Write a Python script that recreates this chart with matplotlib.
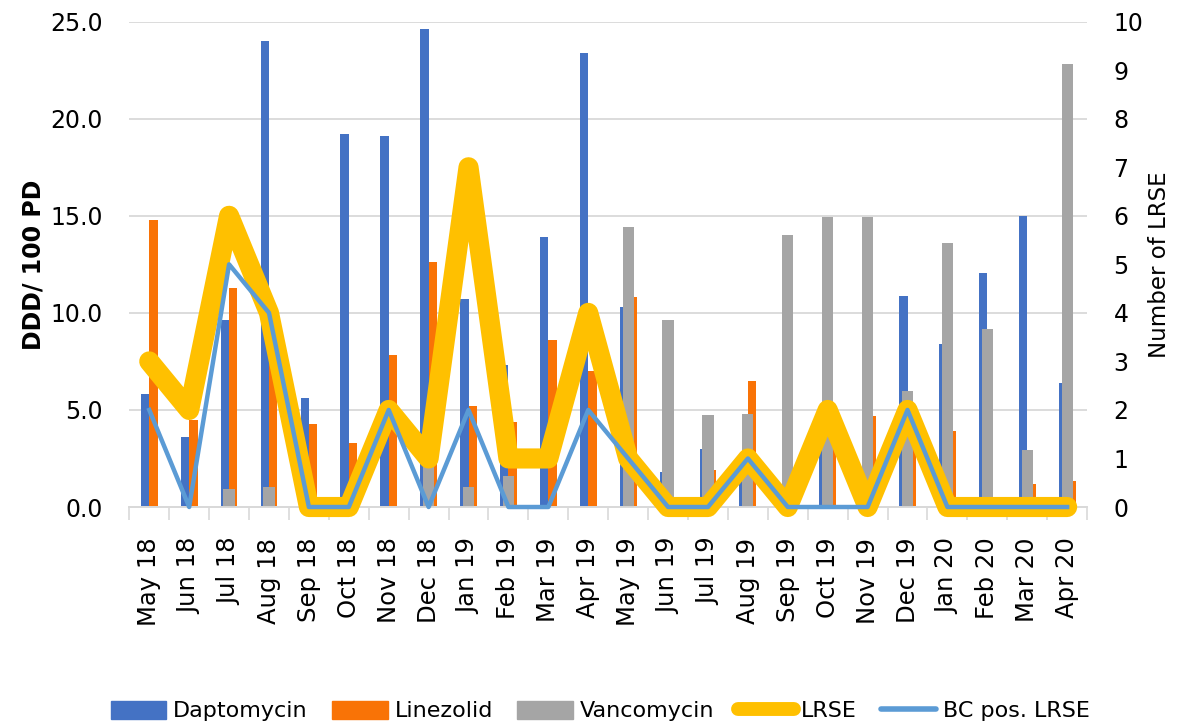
import matplotlib
matplotlib.use("Agg")
import matplotlib.pyplot as plt
import numpy as np
from matplotlib.lines import Line2D
from matplotlib.patches import Patch

months = ['May 18', 'Jun 18', 'Jul 18', 'Aug 18', 'Sep 18', 'Oct 18', 'Nov 18', 'Dec 18',
          'Jan 19', 'Feb 19', 'Mar 19', 'Apr 19', 'May 19', 'Jun 19', 'Jul 19', 'Aug 19',
          'Sep 19', 'Oct 19', 'Nov 19', 'Dec 19', 'Jan 20', 'Feb 20', 'Mar 20', 'Apr 20']
daptomycin = [5.8, 3.6, 9.65, 24.0, 5.6, 19.2, 19.1, 24.6, 10.7, 7.3, 13.9, 23.4,
              10.3, 1.8, 3.0, 2.0, 0.5, 3.5, 0.3, 10.85, 8.4, 12.05, 15.0, 6.4]
linezolid = [14.8, 4.5, 11.3, 8.0, 4.3, 3.3, 7.85, 12.6, 5.2, 4.4, 8.6, 7.0,
             10.8, 0.2, 1.9, 6.5, 0.3, 3.0, 4.7, 3.2, 3.9, 0.3, 1.2, 1.35]
vancomycin = [0, 0, 0.95, 1.05, 0, 0, 0, 2.2, 1.05, 1.6, 0, 0,
              14.4, 9.65, 4.75, 4.8, 14.0, 14.95, 14.95, 6.0, 13.6, 9.15, 2.95, 22.8]
lrse = [3, 2, 6, 4, 0, 0, 2, 1, 7, 1, 1, 4, 1, 0, 0, 1, 0, 2, 0, 2, 0, 0, 0, 0]
bc_pos_lrse = [2, 0, 5, 4, 0, 0, 2, 0, 2, 0, 0, 2, 1, 0, 0, 1, 0, 0, 0, 2, 0, 0, 0, 0]

left_ticks = [0, 5, 10, 15, 20, 25]
right_ticks = list(range(0, 11))

C_DAP = '#4472C4'
C_LIN = '#F97306'
C_VAN = '#A5A5A5'
C_LRSE = '#FFC000'
C_BC = '#5B9BD5'
GRID = '#D9D9D9'

plt.rcParams['font.family'] = ['DejaVu Sans']

fig = plt.figure(figsize=(11.82, 7.27), dpi=100)
ax = fig.add_axes([0.1094, 0.3026, 0.8103, 0.6676])
ax2 = ax.twinx()

x = np.arange(len(months))
bw = 0.21
ax.bar(x - bw / 2, daptomycin, width=bw, color=C_DAP, zorder=2)
ax.bar(x + bw / 2, linezolid, width=bw, color=C_LIN, zorder=2)
ax.bar(x, vancomycin, width=0.28, color=C_VAN, zorder=3)

ax2.plot(x, lrse, color=C_LRSE, lw=14.5, solid_joinstyle='round',
         solid_capstyle='round', clip_on=False, zorder=4)
ax2.plot(x, bc_pos_lrse, color=C_BC, lw=3.2, solid_joinstyle='round',
         clip_on=False, zorder=5)

ax.set_xlim(-0.5, len(months) - 0.5)
ax.set_ylim(0, 25)
ax2.set_ylim(0, 10)

ax.set_yticks(left_ticks)
ax.set_yticklabels([f'{v:.1f}' for v in left_ticks])
ax2.set_yticks(right_ticks)
ax2.set_yticklabels([str(v) for v in right_ticks])

ax.set_xticks(x)
ax.set_xticklabels(months, rotation=90, fontsize=17.5)
ax.set_xticks(np.arange(-0.5, len(months), 1), minor=True)
ax.tick_params(axis='x', which='major', length=0, pad=22)
ax.tick_params(axis='x', which='minor', length=9, color=GRID, width=1.2)
ax.tick_params(axis='y', length=0, pad=19, labelsize=17)
ax2.tick_params(axis='y', length=0, pad=19, labelsize=17)
ax2.tick_params(axis='x', length=0)

ax.grid(axis='y', color=GRID, lw=1.3, zorder=0)
ax.set_axisbelow(True)
for a in (ax, ax2):
    for s in ('top', 'left', 'right'):
        a.spines[s].set_visible(False)
    a.spines['bottom'].set_color(GRID)
    a.spines['bottom'].set_linewidth(1.3)

ax.set_ylabel('DDD/ 100 PD', fontsize=17, fontweight='bold')
ax2.set_ylabel('Number of LRSE', fontsize=16.5)
ax.yaxis.set_label_coords(-0.088, 0.5)
ax2.yaxis.set_label_coords(1.064, 0.5)

ax.set_zorder(1)
ax2.set_zorder(2)
ax2.patch.set_visible(False)

handles = [Patch(color=C_DAP, label='Daptomycin'),
           Patch(color=C_LIN, label='Linezolid'),
           Patch(color=C_VAN, label='Vancomycin'),
           Line2D([], [], color=C_LRSE, lw=10, solid_capstyle='round', label='LRSE'),
           Line2D([], [], color=C_BC, lw=4, solid_capstyle='round', label='BC pos. LRSE')]
fig.legend(handles=handles, loc='center', bbox_to_anchor=(0.508, 0.022), ncol=5,
           frameon=False, fontsize=16, handlelength=2.5, handleheight=0.9,
           columnspacing=1.1, handletextpad=0.3)

fig.savefig('out.png', dpi=100)
